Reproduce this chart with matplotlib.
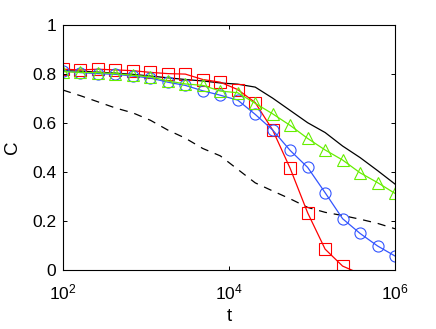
import matplotlib
matplotlib.use('Agg')
import matplotlib.pyplot as plt

### data
t = [100, 162, 264, 428, 695, 1129, 1833, 2976, 4833, 7848,
     12743, 20691, 33598, 54556, 88587, 143845, 233572, 379269, 615848, 1000000]

c_black = [0.812, 0.810, 0.806, 0.802, 0.797, 0.790, 0.783, 0.776, 0.770, 0.762,
           0.757, 0.745, 0.700, 0.650, 0.600, 0.560, 0.505, 0.458, 0.405, 0.350]
c_dashed = [0.733, 0.710, 0.685, 0.660, 0.640, 0.610, 0.570, 0.537, 0.495, 0.465,
            0.410, 0.355, 0.322, 0.290, 0.255, 0.235, 0.222, 0.207, 0.190, 0.168]
c_red = [0.818, 0.815, 0.818, 0.815, 0.812, 0.805, 0.800, 0.798, 0.776, 0.765,
         0.735, 0.682, 0.570, 0.414, 0.233, 0.085, 0.016, -0.015]
c_blue = [0.812, 0.804, 0.800, 0.797, 0.790, 0.782, 0.765, 0.752, 0.730, 0.712,
          0.692, 0.634, 0.570, 0.487, 0.418, 0.315, 0.209, 0.149, 0.098, 0.057]
c_green = [0.808, 0.805, 0.804, 0.800, 0.793, 0.787, 0.770, 0.758, 0.752, 0.729,
           0.722, 0.679, 0.636, 0.589, 0.536, 0.489, 0.448, 0.396, 0.356, 0.312]

plt.rcParams['font.family'] = ['Liberation Sans', 'DejaVu Sans']
plt.rcParams['mathtext.fontset'] = 'custom'
plt.rcParams['mathtext.rm'] = 'Liberation Sans'
plt.rcParams['mathtext.it'] = 'Liberation Sans'

fig = plt.figure(figsize=(4.36, 3.29), dpi=100)
ax = fig.add_axes([0.1445, 0.1793, 0.7615, 0.7462])

ax.plot(t, c_black, '-', color='black', lw=0.9)
ax.plot(t, c_dashed, color='black', lw=0.9, linestyle=(0, (6.5, 5.5)))
ax.plot(t[:len(c_red)], c_red, '-s', color='red', lw=0.9, ms=8,
        mfc='none', mew=0.8, markevery=slice(0, 17))
ax.plot(t, c_blue, '-o', color='#3355ff', lw=0.9, ms=8, mfc='none', mew=0.8)
ax.plot(t, c_green, '-^', color='#66ee00', lw=0.9, ms=8.5, mfc='none', mew=0.8)

ax.set_xscale('log')
ax.set_xlim(1e2, 1e6)
ax.set_ylim(0, 1)
ax.set_xticks([1e2, 1e4, 1e6])
ax.set_yticks([0, 0.2, 0.4, 0.6, 0.8, 1])
ax.set_yticklabels(['0', '0.2', '0.4', '0.6', '0.8', '1'])
ax.minorticks_off()
ax.tick_params(direction='in', top=True, right=True, length=3,
               width=0.7, labelsize=12.5)
ax.tick_params(axis='x', pad=9)
ax.tick_params(axis='y', pad=5)
for s in ax.spines.values():
    s.set_linewidth(0.8)

ax.set_xlabel('t', fontsize=13.5, labelpad=4)
ax.set_ylabel('C', fontsize=13.5, labelpad=8)

fig.savefig('out.png', dpi=100)
